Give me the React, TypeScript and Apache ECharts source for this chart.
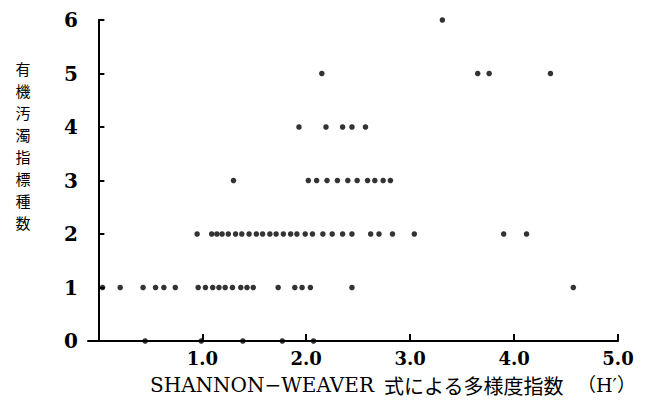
import React, { useEffect, useRef } from "react";
import * as echarts from "echarts";

// H' values for each count of organic pollution indicator species
const row0: number[] = [0.45, 0.99, 1.39, 1.77, 2.07];
const row1: number[] = [0.04, 0.21, 0.43, 0.55, 0.63, 0.74, 0.96, 1.03, 1.10, 1.16, 1.22, 1.29, 1.37, 1.43, 1.49, 1.73, 1.89, 1.96, 2.04, 2.44, 4.57];
const row2: number[] = [0.95, 1.09, 1.14, 1.19, 1.25, 1.32, 1.38, 1.45, 1.52, 1.58, 1.65, 1.71, 1.78, 1.85, 1.91, 1.99, 2.06, 2.16, 2.25, 2.35, 2.44, 2.62, 2.70, 2.83, 3.04, 3.90, 4.12];
const row3: number[] = [1.30, 2.02, 2.10, 2.20, 2.30, 2.40, 2.49, 2.59, 2.66, 2.74, 2.81];
const row4: number[] = [1.93, 2.19, 2.35, 2.44, 2.57];
const row5: number[] = [2.15, 3.65, 3.76, 4.35];
const row6: number[] = [3.31];
const rows: number[][] = [row0, row1, row2, row3, row4, row5, row6];

const xTicks: number[] = [1, 2, 3, 4, 5];
const yTicks: number[] = [0, 1, 2, 3, 4, 5, 6];
const xTitleLatin = "SHANNON\u2212WEAVER";
const xTitleJa = "式による多様度指数";
const xTitleSym = "（H\u2032）";
const yTitle = "有機汚濁指標種数";

export default function App() {
  const ref = useRef<HTMLDivElement>(null);
  useEffect(() => {
    if (!ref.current) return;
    const chart = echarts.init(ref.current, null, { renderer: "svg" });
    const data: number[][] = [];
    rows.forEach((r, y) => r.forEach((x) => data.push([x, y])));
    const yTitleChars = yTitle.split("").map((ch, i) => ({
      type: "text",
      x: 23,
      y: 68 + i * 22,
      style: {
        text: ch,
        fill: "#000",
        fontFamily: "'Noto Sans CJK JP'",
        fontSize: 15,
        align: "center",
        verticalAlign: "middle",
      },
    }));
    chart.setOption({
      animation: false,
      backgroundColor: "#ffffff",
      grid: { left: 88, right: 37, top: 20, bottom: 69, outerBoundsMode: "none" },
      xAxis: {
        type: "value",
        min: -0.1,
        max: 5.0,
        axisLine: { show: true, onZero: false, lineStyle: { color: "#000", width: 2 } },
        axisTick: { show: true, inside: true, length: 7, customValues: xTicks, lineStyle: { color: "#000", width: 2 } },
        axisLabel: {
          customValues: xTicks,
          formatter: (v: number) => v.toFixed(1),
          color: "#000",
          fontFamily: "DejaVu Serif",
          fontWeight: "bold",
          fontSize: 18,
          margin: 8,
        },
        splitLine: { show: false },
      },
      yAxis: {
        type: "value",
        min: 0,
        max: 6,
        interval: 1,
        axisLine: { show: true, lineStyle: { color: "#000", width: 2 } },
        axisTick: { show: true, inside: true, length: 6, lineStyle: { color: "#000", width: 2 } },
        axisLabel: {
          formatter: (v: number) => (yTicks.includes(v) ? String(v) : ""),
          color: "#000",
          fontFamily: "DejaVu Serif",
          fontWeight: "bold",
          fontSize: 20,
          margin: 10,
        },
        splitLine: { show: false },
      },
      graphic: [
        {
          type: "text",
          x: 150,
          y: 385,
          style: {
            text: xTitleLatin,
            fill: "#000",
            fontFamily: "DejaVu Serif",
            fontSize: 20,
            verticalAlign: "middle",
          },
        },
        {
          type: "text",
          x: 384,
          y: 385,
          style: {
            text: xTitleJa,
            fill: "#000",
            fontFamily: "'Noto Sans CJK JP'",
            fontSize: 20,
            verticalAlign: "middle",
          },
        },
        {
          type: "text",
          x: 577,
          y: 385,
          style: {
            text: xTitleSym,
            fill: "#000",
            fontFamily: "DejaVu Serif, 'Noto Sans CJK JP'",
            fontSize: 19,
            verticalAlign: "middle",
          },
        },
        ...yTitleChars,
      ],
      series: [
        {
          type: "scatter",
          data,
          symbol: "circle",
          symbolSize: 5.5,
          itemStyle: { color: "#000" },
        },
      ],
    });
    return () => chart.dispose();
  }, []);
  return <div ref={ref} style={{ position: "fixed", left: 0, top: 0, width: 655, height: 410 }} />;
}
